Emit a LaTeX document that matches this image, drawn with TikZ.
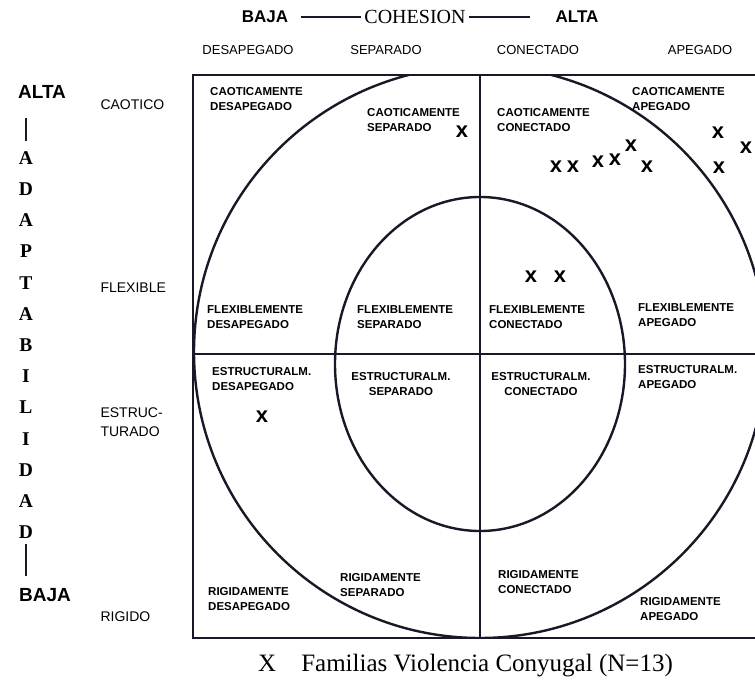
\documentclass[tikz,border=0pt]{standalone}
\usepackage{fontspec}
\setmainfont{Liberation Serif}
\setsansfont{Liberation Sans}
\usetikzlibrary{positioning}
\definecolor{tinta}{RGB}{24,24,38}

\tikzset{
	celda/.style={font=\sffamily\bfseries\fontsize{11.5}{15}\selectfont, align=left, anchor=north west, inner sep=0pt},
	cabeza/.style={font=\sffamily\fontsize{13}{15}\selectfont},
	fila/.style={font=\sffamily\fontsize{14}{19}\selectfont, anchor=west, align=left},
	polo/.style={font=\sffamily\bfseries\fontsize{17}{18}\selectfont},
	letra/.style={font=\bfseries\fontsize{19.5}{20}\selectfont, inner sep=0pt},
	marca/.style={font=\sffamily\bfseries\fontsize{22}{22}\selectfont, inner sep=0pt},
	borde/.style={line width=2.8pt, draw=tinta},
	aro/.style={line width=2.4pt, draw=tinta},
	raya/.style={line width=1.8pt, draw=tinta},
}

\begin{document}
\begin{tikzpicture}[x=1pt, y=-1pt, node distance=31.2pt, on grid]
	\useasboundingbox (0,0) rectangle (755,692);
	\clip (0,0) rectangle (755,692);

	\coordinate (tl) at (193,75);
	\coordinate (br) at (768,638);
	\coordinate (o) at (480,354);

	% circulos
	\begin{scope}
		\clip (tl) rectangle (br);
		\draw[aro] (480,352) ellipse [x radius=286, y radius=286];
	\end{scope}
	\draw[aro] (480,364) ellipse [x radius=145, y radius=167];

	% marco
	\draw[borde] (tl) rectangle (br);
	\draw[borde] (o |- tl) -- (o |- br);
	\draw[borde] (o -| tl) -- (o -| br);

	% cohesion
	\node[polo] (bj) at (265,17) {BAJA};
	\node[font=\fontsize{20}{22}\selectfont] (co) at (415,17) {COHESION};
	\node[polo] (al) at (577,17) {ALTA};
	\node[cabeza] (cdes) at (248,50) {DESAPEGADO};
	\node[cabeza] (csep) at (386,50) {SEPARADO};
	\node[cabeza] (ccon) at (538,50) {CONECTADO};
	\node[cabeza] (cape) at (700,50) {APEGADO};

	% adaptabilidad
	\node[polo, font=\sffamily\bfseries\fontsize{19}{20}\selectfont] (alta) at (42,92) {ALTA};
	\node[letra] (a1) at (26,158) {A};
	\node[letra, below=of a1] (d1) {D};
	\node[letra, below=of d1] (a2) {A};
	\node[letra, below=of a2] (p1) {P};
	\node[letra, below=of p1] (t1) {T};
	\node[letra, below=of t1] (a3) {A};
	\node[letra, below=of a3] (b1) {B};
	\node[letra, below=of b1] (i1) {I};
	\node[letra, below=of i1] (l1) {L};
	\node[letra, below=of l1] (i2) {I};
	\node[letra, below=of i2] (d2) {D};
	\node[letra, below=of d2] (a4) {A};
	\node[letra, below=of a4] (d3) {D};
	\node[polo, font=\sffamily\bfseries\fontsize{19}{20}\selectfont] (baja) at (45,595) {BAJA};

	\node[fila] (fcao) at (97,105) {CAOTICO};
	\node[fila] (fflx) at (97,288) {FLEXIBLE};
	\node[fila] (fest) at (97,422) {ESTRUC-\\TURADO};
	\node[fila] (frig) at (97,617) {RIGIDO};

	% celdas
	\node[celda] (cd) at (210,87) {CAOTICAMENTE\\DESAPEGADO};
	\node[celda] (cs) at (367,108) {CAOTICAMENTE\\SEPARADO};
	\node[celda] (cc) at (497,108) {CAOTICAMENTE\\CONECTADO};
	\node[celda] (ca) at (632,87) {CAOTICAMENTE\\APEGADO};
	\node[celda] (fd) at (207,305) {FLEXIBLEMENTE\\DESAPEGADO};
	\node[celda] (fs) at (357,305) {FLEXIBLEMENTE\\SEPARADO};
	\node[celda] (fc) at (489,305) {FLEXIBLEMENTE\\CONECTADO};
	\node[celda] (fa) at (638,303) {FLEXIBLEMENTE\\APEGADO};
	\node[celda] (ed) at (212,367) {ESTRUCTURALM.\\DESAPEGADO};
	\node[celda, anchor=north, align=center] (es) at (401,372) {ESTRUCTURALM.\\SEPARADO};
	\node[celda, anchor=north, align=center] (ec) at (541,372) {ESTRUCTURALM.\\CONECTADO};
	\node[celda] (ea) at (638,365) {ESTRUCTURALM.\\APEGADO};
	\node[celda] (rd) at (208,587) {RIGIDAMENTE\\DESAPEGADO};
	\node[celda] (rs) at (340,573) {RIGIDAMENTE\\SEPARADO};
	\node[celda] (rc) at (498,570) {RIGIDAMENTE\\CONECTADO};
	\node[celda] (ra) at (640,597) {RIGIDAMENTE\\APEGADO};

	% familias
	\node[marca] (x1) at (462,132) {x};
	\node[marca] (x2) at (556,167) {x};
	\node[marca] (x3) at (573,167) {x};
	\node[marca] (x4) at (598,162) {x};
	\node[marca] (x5) at (615,160) {x};
	\node[marca] (x6) at (631,146) {x};
	\node[marca] (x7) at (647,167) {x};
	\node[marca] (x8) at (718,133) {x};
	\node[marca] (x9) at (719,168) {x};
	\node[marca] (x10) at (746,148) {x};
	\node[marca] (x11) at (531,277) {x};
	\node[marca] (x12) at (560,277) {x};
	\node[marca] (x13) at (262,417) {x};

	\node[anchor=west, inner sep=0pt, font=\fontsize{25}{27}\selectfont] (ley) at (258,666) {X\quad Familias Violencia Conyugal (N=13)};

	% rayas
	\draw[raya, shorten <=9pt] (bj) -- (co);
	\draw[raya, shorten >=22pt] (co) -- (al);
	\draw[raya, shorten <=10pt, shorten >=16pt] (a1.north) -- (a1.north |- alta.south);
	\draw[raya, shorten <=5pt, shorten >=9pt] (d3.south) -- (d3.south |- baja.north);

\end{tikzpicture}
\end{document}
